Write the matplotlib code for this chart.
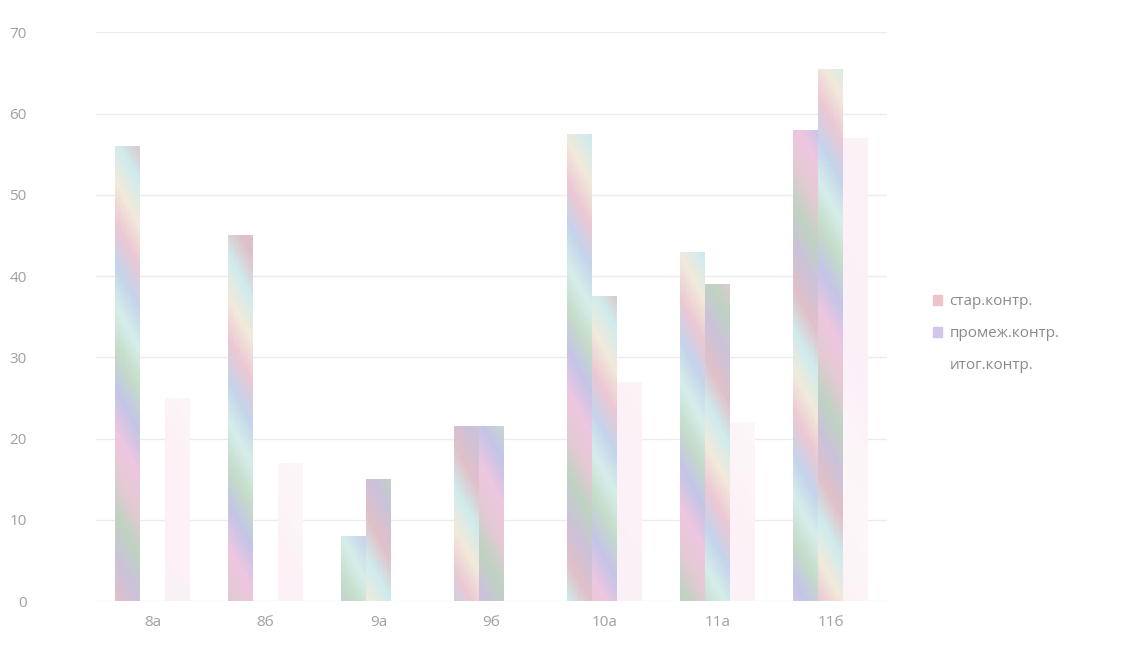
import numpy as np
import matplotlib
matplotlib.use('Agg')
import matplotlib.pyplot as plt
from matplotlib.colors import LinearSegmentedColormap

plt.rcParams['font.family'] = ['Open Sans', 'DejaVu Sans']

classes = ['8а', '8б', '9а', '9б', '10а', '11а', '11б']
start_ctrl = [56, 45, 8, 21.5, 57.5, 43, 58]     # стар.контр.
mid_ctrl = [0, 0, 15, 21.5, 37.5, 39, 65.5]      # промеж.контр.
final_ctrl = [25, 17, 0, 0, 27, 22, 57]          # итог.контр. (very faint)
series_names = ['стар.контр.', 'промеж.контр.', 'итог.контр.']

# washed-out rainbow look of the scanned bars (cyclic: first == last)
rainbow = LinearSegmentedColormap.from_list('pastel', [
    '#e0c0c8', '#ccc2da', '#bfd3c2', '#e4cad4', '#eec6e0', '#c4c4e8',
    '#c4dcc8', '#d6eeea', '#c4d4ec', '#ecc8d4', '#f2eada', '#cfecee', '#e0c0c8'])
faint = LinearSegmentedColormap.from_list('faint', ['#fcf1f6', '#fdf7f9', '#faf1f8', '#fcf1f6'])

fig = plt.figure(figsize=(11.24, 6.45), dpi=100)
ax = fig.add_axes([0.0854, 0.068, 0.704, 0.882])

x = np.arange(len(classes))
w = 0.22
offsets = [-w, 0, w]
all_vals = [start_ctrl, mid_ctrl, final_ctrl]
cmaps = [rainbow, rainbow, faint]

for s, vals in enumerate(all_vals):
    bars = ax.bar(x + offsets[s], vals, w, color='none', edgecolor='none')
    for i, b in enumerate(bars):
        h = b.get_height()
        if h <= 0:
            continue
        ys = np.linspace(0, h, 200).reshape(-1, 1)
        xs = np.linspace(0, 1, 10).reshape(1, -1)
        phase = (ys / 62.0 + xs * 0.08 + 0.23 * i + 0.37 * s) % 1.0
        rgb = cmaps[s](phase)
        im = ax.imshow(rgb, aspect='auto', origin='lower',
                       extent=[b.get_x(), b.get_x() + w, 0, h],
                       interpolation='nearest', zorder=2)
        im.set_clip_path(b)

ax.set_xlim(-0.5, len(classes) - 0.5)
ax.set_ylim(0, 70)
ax.set_yticks(range(0, 71, 10))
ax.set_xticks(x)
ax.set_xticklabels(classes)
ax.tick_params(axis='y', length=0, pad=50, labelsize=11, labelcolor='#a0a0a0')
ax.tick_params(axis='x', length=0, pad=10, labelsize=11, labelcolor='#a0a0a0')
for sp in ax.spines.values():
    sp.set_visible(False)
ax.yaxis.grid(True, color='#ececec', linewidth=1)
ax.set_axisbelow(True)

handles = [plt.Rectangle((0, 0), 1, 1, color=c) for c in ['#eec4cc', '#d2c4ea', '#ffffff']]
leg = ax.legend(handles, series_names, loc='center left', bbox_to_anchor=(1.04, 0.47),
                frameon=False, fontsize=11, labelcolor='#8a8a8a',
                handlelength=0.6, handleheight=0.6, handletextpad=0.5, labelspacing=1.1)

fig.savefig('out.png', dpi=100, facecolor='white')
